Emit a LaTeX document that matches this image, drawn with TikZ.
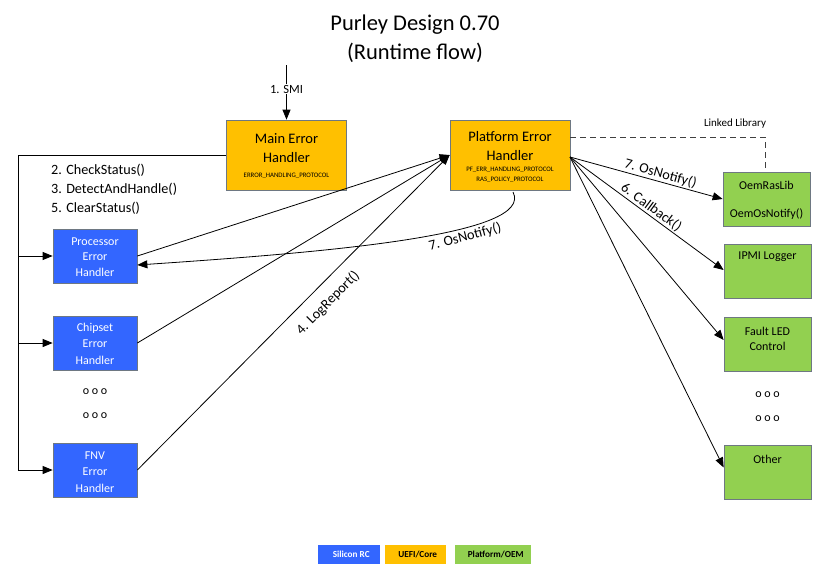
\documentclass[tikz,border=0pt]{standalone}
\usepackage{fontspec}
\setmainfont{Carlito}
\usetikzlibrary{arrows.meta,calc}
\definecolor{sblue}{RGB}{51,102,255}
\definecolor{uorange}{RGB}{255,192,0}
\definecolor{pgreen}{RGB}{146,208,80}
\definecolor{bord}{RGB}{110,120,130}
\begin{document}
\begin{tikzpicture}[x=1pt,y=-1pt,
  box/.style={draw=bord,line width=0.7pt,inner sep=0pt},
  bluebox/.style={box,fill=sblue,minimum width=84pt,minimum height=54pt},
  orbox/.style={box,fill=uorange,minimum width=120pt,minimum height=70pt},
  grbox/.style={box,fill=pgreen,minimum width=87pt,minimum height=54pt},
  wtxt/.style={text=white,font=\fontsize{12}{14}\selectfont,align=center,inner sep=0pt},
  btxt/.style={font=\fontsize{12}{14}\selectfont,align=center,inner sep=0pt},
  tiny/.style={font=\fontsize{6.8}{8}\selectfont,inner sep=0pt},
  arr/.style={-{Triangle[length=10pt,width=8pt]},line width=0.8pt},
  ln/.style={line width=0.8pt},
  lbl/.style={font=\fontsize{14.2}{16}\selectfont,inner sep=1pt},
  hdr/.style={font=\fontsize{14.5}{17}\selectfont,inner sep=0pt},
  leg/.style={font=\fontsize{9.2}{11}\selectfont\bfseries,minimum height=19pt,inner sep=0pt,anchor=west}
]
\useasboundingbox (0,0) rectangle (830,579);
% title
\node[font=\fontsize{22.5}{27}\selectfont] (t1) at (415,25) {Purley Design 0.70};
\node[font=\fontsize{22.5}{27}\selectfont] (t2) at (415,53) {(Runtime flow)};
% main boxes
\node[orbox] (main) at (286.5,155) {};
\node[hdr] (mt1) at (286.5,139) {Main Error};
\node[hdr] (mt2) at (286.5,158) {Handler};
\node[tiny] (mt3) at (286.5,176) {ERROR\_HANDLING\_PROTOCOL};
\node[orbox] (pf) at (510,155) {};
\node[hdr] (pt1) at (510,137) {Platform Error};
\node[hdr] (pt2) at (510,156) {Handler};
\node[tiny] (pt3) at (510,170) {PF\_ERR\_HANDLING\_PROTOCOL};
\node[tiny] (pt4) at (510,179.5) {RAS\_POLICY\_PROTOCOL};
% SMI
\coordinate (smitop) at (286.5,65);
\draw[arr] (smitop) -- (main.north) node[pos=0.44,fill=white,inner sep=1pt,font=\fontsize{12.5}{14}\selectfont] {1. SMI};
% blue boxes
\node[bluebox] (proc) at (95,256) {};
\node[wtxt] at (95,242) {Processor};
\node[wtxt] at (95,257) {Error};
\node[wtxt] at (95,272) {Handler};
\node[bluebox] (chip) at (95,343) {};
\node[wtxt] at (95,328) {Chipset};
\node[wtxt] at (95,344) {Error};
\node[wtxt] at (95,360) {Handler};
\node[bluebox] (fnv) at (95,470) {};
\node[wtxt] at (95,456) {FNV};
\node[wtxt] at (95,472) {Error};
\node[wtxt] at (95,488) {Handler};
\node[btxt] (d1) at (95,392) {o o o};
\node[btxt] (d2) at (95,416) {o o o};
% bus
\coordinate (bus) at (18,155);
\draw[ln] (main.west) -- (bus) -- (18,470);
\draw[arr] (18,256) -- (proc.west);
\draw[arr] (18,343) -- (chip.west);
\draw[arr] (18,470) -- (fnv.west);
\node[lbl,anchor=west] (c1) at (50,170) {2. CheckStatus()};
\node[lbl,anchor=west] (c2) at (50,189) {3. DetectAndHandle()};
\node[lbl,anchor=west] (c3) at (50,208) {5. ClearStatus()};
% to platform
\draw[arr] (proc.east) -- (pf.west);
\draw[arr] (chip.east) -- (pf.west);
\draw[arr] (fnv.east) -- node[pos=0.57,sloped,below=10pt,lbl] {4. LogReport()} (pf.west);
% OsNotify curve
\coordinate (pfb) at (513,192);
\draw[arr] (pfb) .. controls (535,235) and (330,252) .. ($(proc.east)+(0,9)$)
  node[pos=0.35,sloped,below=1pt,lbl] {7. OsNotify()};
% green boxes
\node[grbox] (oem) at (766.5,199) {};
\node[btxt] at (766.5,185) {OemRasLib};
\node[btxt] at (766.5,214) {OemOsNotify()};
\node[grbox] (ipmi) at (767.5,271) {};
\node[btxt] at (767.5,257) {IPMI Logger};
\node[grbox] (led) at (767.5,344) {};
\node[btxt] at (767.5,331) {Fault LED};
\node[btxt] at (767.5,346) {Control};
\node[btxt] (d3) at (767.5,395) {o o o};
\node[btxt] (d4) at (767.5,419) {o o o};
\node[grbox] (oth) at (767.5,472.5) {};
\node[btxt] at (767.5,459) {Other};
% right arrows
\coordinate (pfe) at (570,157);
\draw[arr] (pfe) -- node[sloped,above=0pt,lbl,pos=0.58] {7. OsNotify()} (oem.west);
\draw[arr] (pfe) -- node[sloped,above=0pt,lbl,pos=0.5] {6. Callback()} ($(ipmi.west)+(0,-1)$);
\draw[arr] (pfe) -- ($(led.west)+(0,-4)$);
\draw[arr] (pfe) -- ($(oth.west)+(0,-5)$);
% linked library
\coordinate (ll) at (765,137);
\draw[ln,dashed,dash pattern=on 6pt off 4pt,draw=black!75] ($(pf.east)+(0,-18)$) -- (ll) -- (ll |- oem.north);
\node[font=\fontsize{11}{13}\selectfont,fill=white,inner sep=1pt] (lltxt) at (735,124) {Linked Library};
% legend
\node[leg,fill=sblue,text=white,minimum width=62pt] (lg1) at (318,554.5) {\hspace{4pt}Silicon RC};
\node[leg,fill=uorange,minimum width=61pt] (lg2) at (385,554.5) {\hspace{4pt}UEFI/Core};
\node[leg,fill=pgreen,minimum width=76pt] (lg3) at (455,554.5) {\hspace{5pt}Platform/OEM};
\end{tikzpicture}
\end{document}
